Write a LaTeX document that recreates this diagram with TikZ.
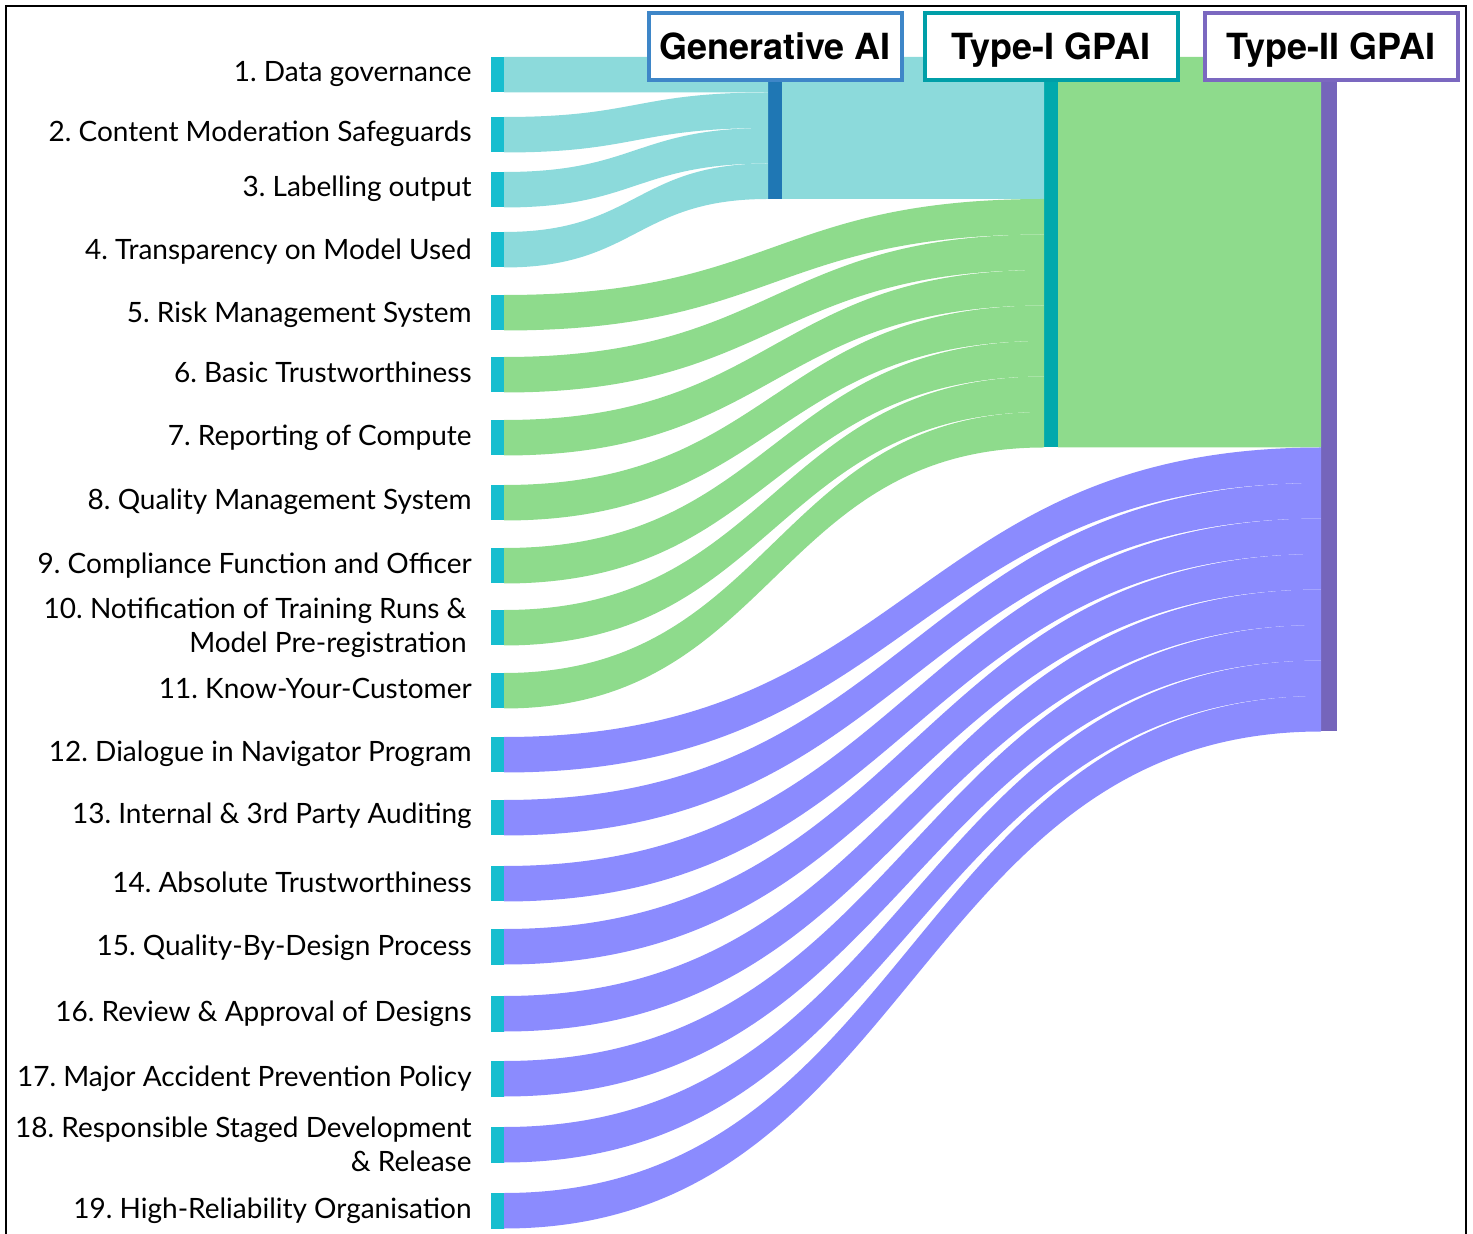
\documentclass[tikz,border=0pt]{standalone}
\usepackage{fontspec}
\setmainfont{Lato}
\newfontfamily\headfont{TeX Gyre Heros}
\usepackage{tikz}
\usetikzlibrary{calc}
\frenchspacing

\definecolor{srcbar}{HTML}{17BECF}
\definecolor{genbar}{HTML}{1F77B4}
\definecolor{typeibar}{HTML}{00A9AC}
\definecolor{typeiibar}{HTML}{7565BB}
\definecolor{genflow}{HTML}{8CDADB}
\definecolor{greenflow}{HTML}{8EDB8C}
\definecolor{purpleflow}{HTML}{8B8BFE}
\definecolor{genedge}{HTML}{3E86C8}
\definecolor{typeiedge}{HTML}{009FA8}
\definecolor{typeiiedge}{HTML}{7B68C0}

% band between two vertical edges: top/bottom at start, top/bottom at end
\newcommand{\band}[5]{%
  \fill[#5] let \p1=(#1), \p2=(#2), \p3=(#3), \p4=(#4) in
    (\p1) .. controls ({(\x1+\x3)/2},\y1) and ({(\x1+\x3)/2},\y3) .. (\p3)
    -- (\p4) .. controls ({(\x1+\x3)/2},\y4) and ({(\x1+\x3)/2},\y2) .. (\p2) -- cycle;}

\begin{document}
\begin{tikzpicture}[x=0.5pt, y=-0.5pt,
    src/.style={rectangle, fill=srcbar, inner sep=0, outer sep=0, minimum width=6.5pt, minimum height=17.75pt, anchor=north west},
    hub/.style={rectangle, inner sep=0, outer sep=0, minimum width=7pt, anchor=north west},
    lbl/.style={anchor=base east, inner sep=0, font=\fontsize{14}{17}\selectfont},
    lbltwo/.style={anchor=east, inner sep=0, align=right, font=\fontsize{14}{17}\selectfont},
    head/.style={rectangle, draw, fill=white, line width=2pt, minimum width=126.5pt, minimum height=33.5pt,
      inner sep=0, text height=12.9pt, text depth=0pt, font=\headfont\bfseries\fontsize{18}{20}\selectfont}]
\useasboundingbox (0,0) rectangle (1473,1234);
\draw[line width=1pt] (6,1240) -- (6,6) -- (1466,6) -- (1466,1240);

% hub bars
\node[hub, fill=genbar, minimum height=71pt] (g) at (768,57) {};
\node[hub, fill=typeibar, minimum height=195.25pt] (t1) at (1044,57) {};
\node[hub, fill=typeiibar, minimum width=8pt, minimum height=337.25pt] (t2) at (1321,57) {};

% source bars
\node[src] (n1) at (491,57) {};
\node[src] (n2) at (491,117) {};
\node[src] (n3) at (491,172) {};
\node[src] (n4) at (491,232) {};
\node[src] (n5) at (491,295) {};
\node[src] (n6) at (491,357) {};
\node[src] (n7) at (491,420) {};
\node[src] (n8) at (491,485) {};
\node[src] (n9) at (491,548) {};
\node[src] (n10) at (491,610) {};
\node[src] (n11) at (491,673) {};
\node[src] (n12) at (491,737) {};
\node[src] (n13) at (491,800) {};
\node[src] (n14) at (491,866) {};
\node[src] (n15) at (491,929) {};
\node[src] (n16) at (491,996) {};
\node[src] (n17) at (491,1061) {};
\node[src] (n18) at (491,1127) {};
\node[src] (n19) at (491,1193) {};

% labels
\node[lbl] (l1) at (472,81.25) {1. Data governance};
\node[lbl] (l2) at (472,141.25) {2. Content Moderation Safeguards};
\node[lbl] (l3) at (472,196.25) {3. Labelling output};
\node[lbl] (l4) at (472,259.25) {4. Transparency on Model Used};
\node[lbl] (l5) at (472,322.25) {5. Risk Management System};
\node[lbl] (l6) at (472,382.25) {6. Basic Trustworthiness};
\node[lbl] (l7) at (472,445.25) {7. Reporting of Compute};
\node[lbl] (l8) at (472,509.25) {8. Quality Management System};
\node[lbl] (l9) at (472,573.25) {9. Compliance Function and Officer};
\node[lbltwo] (l10) at (467,627.5) {10. Notification of Training Runs \&\\Model Pre-registration};
\node[lbl] (l11) at (472,698.25) {11. Know-Your-Customer};
\node[lbl] (l12) at (472,761.25) {12. Dialogue in Navigator Program};
\node[lbl] (l13) at (472,823.25) {13. Internal \& 3rd Party Auditing};
\node[lbl] (l14) at (472,892.25) {14. Absolute Trustworthiness};
\node[lbl] (l15) at (472,955.25) {15. Quality-By-Design Process};
\node[lbl] (l16) at (472,1021.25) {16. Review \& Approval of Designs};
\node[lbl] (l17) at (472,1086.25) {17. Major Accident Prevention Policy};
\node[lbltwo] (l18) at (472,1144.5) {18. Responsible Staged Development\\\& Release};
\node[lbl] (l19) at (472,1218.25) {19. High-Reliability Organisation};

% flows into Generative AI
\band{n1.north east}{n1.south east}{g.north west}{$(g.north west)+(0,35.5)$}{genflow}
\band{n2.north east}{n2.south east}{$(g.north west)+(0,35.5)$}{$(g.north west)+(0,71)$}{genflow}
\band{n3.north east}{n3.south east}{$(g.north west)+(0,71)$}{$(g.north west)+(0,106.5)$}{genflow}
\band{n4.north east}{n4.south east}{$(g.north west)+(0,106.5)$}{g.south west}{genflow}

% flows into Type-I GPAI
\band{g.north east}{g.south east}{t1.north west}{$(t1.north west)+(0,142)$}{genflow}
\band{n5.north east}{n5.south east}{$(t1.north west)+(0,142)$}{$(t1.north west)+(0,177.5)$}{greenflow}
\band{n6.north east}{n6.south east}{$(t1.north west)+(0,177.5)$}{$(t1.north west)+(0,213)$}{greenflow}
\band{n7.north east}{n7.south east}{$(t1.north west)+(0,213)$}{$(t1.north west)+(0,248.5)$}{greenflow}
\band{n8.north east}{n8.south east}{$(t1.north west)+(0,248.5)$}{$(t1.north west)+(0,284)$}{greenflow}
\band{n9.north east}{n9.south east}{$(t1.north west)+(0,284)$}{$(t1.north west)+(0,319.5)$}{greenflow}
\band{n10.north east}{n10.south east}{$(t1.north west)+(0,319.5)$}{$(t1.north west)+(0,355)$}{greenflow}
\band{n11.north east}{n11.south east}{$(t1.north west)+(0,355)$}{t1.south west}{greenflow}

% flows into Type-II GPAI
\band{t1.north east}{t1.south east}{t2.north west}{$(t2.north west)+(0,390.5)$}{greenflow}
\band{n12.north east}{n12.south east}{$(t2.north west)+(0,390.5)$}{$(t2.north west)+(0,426)$}{purpleflow}
\band{n13.north east}{n13.south east}{$(t2.north west)+(0,426)$}{$(t2.north west)+(0,461.5)$}{purpleflow}
\band{n14.north east}{n14.south east}{$(t2.north west)+(0,461.5)$}{$(t2.north west)+(0,497)$}{purpleflow}
\band{n15.north east}{n15.south east}{$(t2.north west)+(0,497)$}{$(t2.north west)+(0,532.5)$}{purpleflow}
\band{n16.north east}{n16.south east}{$(t2.north west)+(0,532.5)$}{$(t2.north west)+(0,568)$}{purpleflow}
\band{n17.north east}{n17.south east}{$(t2.north west)+(0,568)$}{$(t2.north west)+(0,603.5)$}{purpleflow}
\band{n18.north east}{n18.south east}{$(t2.north west)+(0,603.5)$}{$(t2.north west)+(0,639)$}{purpleflow}
\band{n19.north east}{n19.south east}{$(t2.north west)+(0,639)$}{t2.south west}{purpleflow}

% headings
\node[head, draw=genedge] (hg) at (775,46.5) {Generative AI};
\node[head, draw=typeiedge] (h1) at (1051,46.5) {Type-I GPAI};
\node[head, draw=typeiiedge] (h2) at (1331,46.5) {Type-II GPAI};
\end{tikzpicture}
\end{document}
